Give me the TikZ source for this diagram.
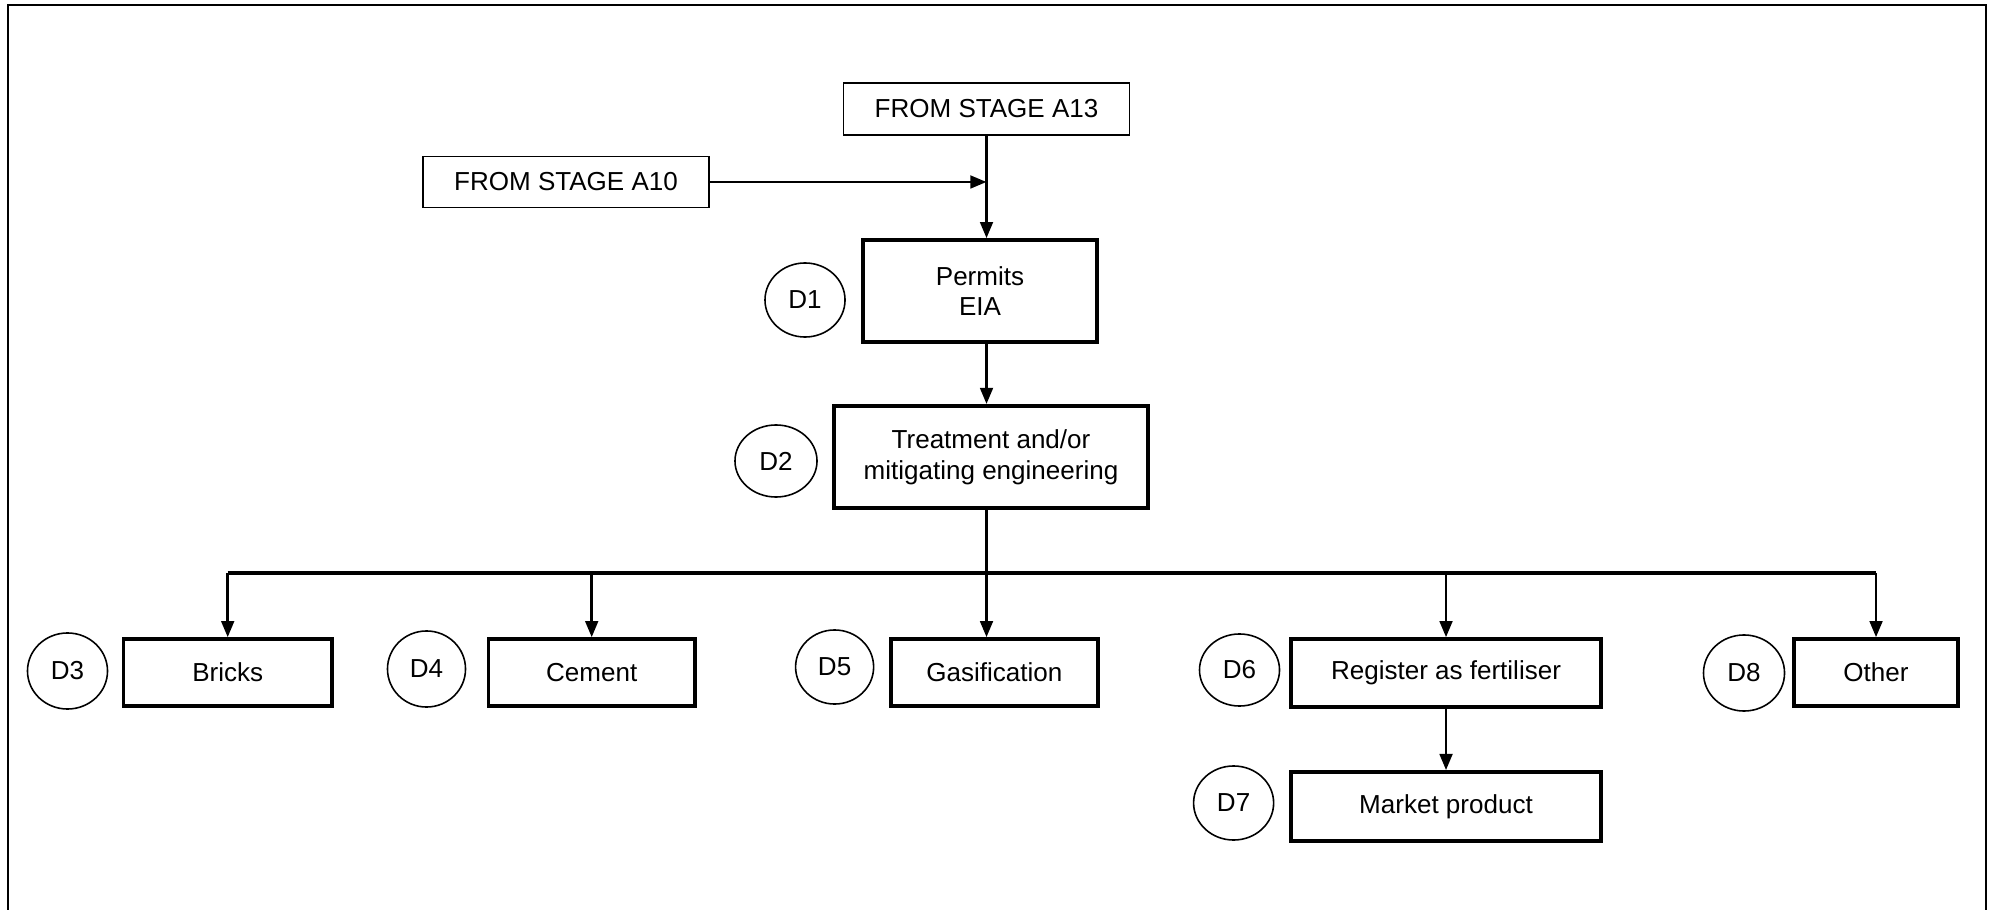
\documentclass[tikz,border=0pt]{standalone}
\usepackage{fontspec}
\setmainfont{Liberation Sans}
\usetikzlibrary{arrows.meta,shapes.geometric}
\begin{document}
\begin{tikzpicture}[x=0.01cm, y=-0.01cm,
  every node/.style={font=\fontsize{7.4pt}{8.7pt}\selectfont, align=center, inner sep=0pt},
  stagebox/.style={draw, line width=0.5pt},
  mainbox/.style={draw, line width=1.1pt},
  optbox/.style={draw, line width=1.0pt, minimum height=0.67cm},
  tag/.style={draw, ellipse, line width=0.45pt, minimum width=0.8cm, minimum height=0.74cm},
  flow/.style={-{Triangle[length=4.6pt,width=3.6pt]}, line width=0.8pt},
  busline/.style={line width=0.95pt}
]
% canvas and open frame
\useasboundingbox (0,0) rectangle (1995,910);
\draw[line width=0.75pt] (8,910) -- (8,5) -- (1986,5) -- (1986,910);

% incoming stages
\node[stagebox, minimum width=2.86cm, minimum height=0.52cm] (a13) at (986.5,109) {FROM STAGE A13};
\node[stagebox, minimum width=2.865cm, minimum height=0.51cm] (a10) at (566,182) {FROM STAGE A10};

% main steps
\node[mainbox, minimum width=2.336cm, minimum height=1.017cm] (permits) at (980,291) {Permits\\EIA};
\node[tag] (d1) at (805,300) {D1};
\node[mainbox, minimum width=3.14cm, minimum height=1.02cm] (treat) at (991,457) {Treatment and/or\\mitigating engineering};
\node[tag, minimum width=0.82cm, minimum height=0.72cm] (d2) at (776,461) {D2};

% outlets
\node[optbox, minimum width=2.086cm] (bricks) at (227.7,672.5) {Bricks};
\node[tag, minimum height=0.76cm] (d3) at (67.5,671) {D3};
\node[optbox, minimum width=2.06cm] (cement) at (591.7,672.5) {Cement};
\node[tag, minimum width=0.78cm, minimum height=0.76cm] (d4) at (426.5,669) {D4};
\node[optbox, minimum width=2.07cm] (gas) at (994.3,672.5) {Gasification};
\node[tag, minimum width=0.78cm] (d5) at (834.6,667) {D5};
\node[optbox, minimum width=3.10cm, minimum height=0.68cm] (register) at (1446,673) {Register as fertiliser};
\node[tag, minimum height=0.72cm] (d6) at (1239.5,670) {D6};
\node[optbox, minimum width=3.10cm, minimum height=0.69cm] (market) at (1446,806.4) {Market product};
\node[tag] (d7) at (1233.6,803) {D7};
\node[optbox, minimum width=1.64cm] (other) at (1876,672.5) {Other};
\node[tag, minimum width=0.81cm, minimum height=0.76cm] (d8) at (1744,673) {D8};

% connectors
\coordinate (bus) at (0,573);
\draw[flow] (a13.south) -- (a13.south |- permits.north);
\draw[flow] (a10.east) -- (a10.east -| a13.south);
\draw[flow] (permits.south -| a13.south) -- (a13.south |- treat.north);
\draw[flow] (treat.south -| a13.south) -- (a13.south |- gas.north);
\draw[busline] (bricks.north |- bus) -- (other.north |- bus);
\draw[flow] (bricks.north |- bus) -- (bricks.north);
\draw[flow] (cement.north |- bus) -- (cement.north);
\draw[flow] (register.north |- bus) -- (register.north);
\draw[flow] (other.north |- bus) -- (other.north);
\draw[flow] (register.south) -- (market.north);
\end{tikzpicture}
\end{document}
